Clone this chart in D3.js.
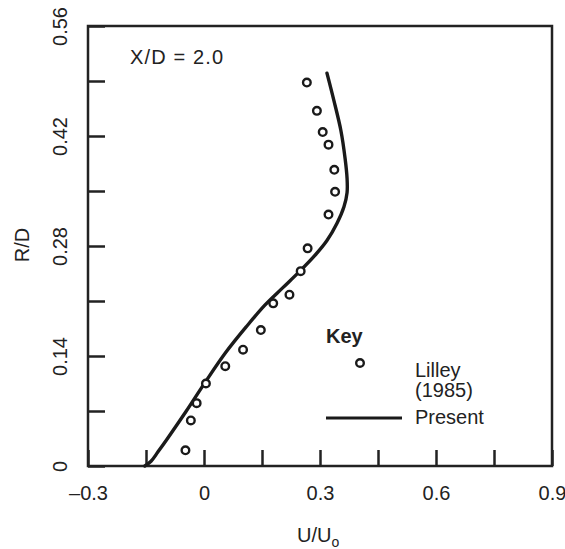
<!DOCTYPE html>
<html>
<head>
<meta charset="utf-8">
<script src="https://cdn.jsdelivr.net/npm/d3@7"></script>
<style>
  body { margin: 0; background: #fff; }
  text { font-family: Arial, "Liberation Sans", Helvetica, sans-serif; fill: #222; }
</style>
</head>
<body>
<div id="chart"></div>
<script>
// Lilley (1985) measured points, U/Uo vs R/D
var lilleyU = [0.266, 0.292, 0.307, 0.322, 0.337, 0.339, 0.322, 0.268, 0.250, 0.221, 0.179, 0.147, 0.101, 0.055, 0.005, -0.019, -0.034, -0.048];
var lilleyR = [0.488, 0.452, 0.425, 0.409, 0.377, 0.349, 0.320, 0.277, 0.248, 0.218, 0.207, 0.173, 0.148, 0.127, 0.105, 0.080, 0.058, 0.020];

// Present prediction
var presentU = [-0.153, -0.137, -0.119, -0.093, -0.047, 0.005, 0.057, 0.109, 0.158, 0.204, 0.248, 0.285, 0.318, 0.344, 0.362, 0.370, 0.370, 0.365, 0.354, 0.336, 0.318];
var presentR = [0, 0.006, 0.018, 0.036, 0.069, 0.108, 0.145, 0.177, 0.205, 0.227, 0.248, 0.267, 0.287, 0.309, 0.330, 0.348, 0.366, 0.391, 0.427, 0.465, 0.500];

var xTicks = [-0.3, -0.15, 0, 0.15, 0.3, 0.45, 0.6, 0.75, 0.9];
var xLabels = [-0.3, 0, 0.3, 0.6, 0.9];
var yTicks = [0, 0.07, 0.14, 0.21, 0.28, 0.35, 0.42, 0.49, 0.56];
var yLabels = [0, 0.14, 0.28, 0.42, 0.56];

var width = 565,
    height = 549,
    margin = { left: 88, top: 26, right: 13, bottom: 83 };
var chartWidth = width - margin.left - margin.right;
var chartHeight = height - margin.top - margin.bottom;

var svg = d3.select('#chart').append('svg')
    .attr('width', width)
    .attr('height', height);

var g = svg.append('g')
    .attr('transform', 'translate(' + margin.left + ',' + margin.top + ')');

var xScale = d3.scaleLinear().domain([-0.3, 0.9]).range([0, chartWidth]);
var yScale = d3.scaleLinear().domain([0, 0.56]).range([chartHeight, 0]);

var fmt = function(d) {
    if (d === 0) return '0';
    return (d < 0 ? '\u2013' : '') + Math.abs(d);
};

// axes with inward ticks
var xAxis = d3.axisBottom(xScale)
    .tickValues(xTicks)
    .tickFormat(function(d) { return xLabels.indexOf(d) < 0 ? '' : fmt(d); })
    .tickSizeInner(-16)
    .tickSizeOuter(0)
    .tickPadding(20);

var yAxis = d3.axisLeft(yScale)
    .tickValues(yTicks)
    .tickFormat(function(d) { return yLabels.indexOf(d) < 0 ? '' : fmt(d); })
    .tickSizeInner(-17)
    .tickSizeOuter(0);

var gx = g.append('g')
    .attr('class', 'axis x')
    .attr('transform', 'translate(0,' + chartHeight + ')')
    .call(xAxis);

var gy = g.append('g')
    .attr('class', 'axis y')
    .call(yAxis);

g.selectAll('.axis .domain').remove();
g.selectAll('.axis line').attr('stroke', '#222').attr('stroke-width', 2.5);
g.selectAll('.axis text')
    .attr('font-family', 'Arial, "Liberation Sans", sans-serif')
    .attr('font-size', 20)
    .attr('fill', '#222');

gy.selectAll('text')
    .attr('transform', 'rotate(-90)')
    .attr('x', 0)
    .attr('y', -21)
    .attr('dy', 0)
    .attr('text-anchor', 'middle');

// frame
g.append('rect')
    .attr('width', chartWidth)
    .attr('height', chartHeight)
    .attr('fill', 'none')
    .attr('stroke', '#222')
    .attr('stroke-width', 2.5);

// Present curve
var line = d3.line()
    .x(function(d, i) { return xScale(presentU[i]); })
    .y(function(d, i) { return yScale(presentR[i]); })
    .curve(d3.curveCatmullRom.alpha(0.5));

g.append('path')
    .datum(presentU)
    .attr('d', line)
    .attr('fill', 'none')
    .attr('stroke', '#1a1a1a')
    .attr('stroke-width', 3.4)
    .attr('stroke-linecap', 'round');

// Lilley points
g.selectAll('circle.pt')
    .data(lilleyU)
    .enter().append('circle')
    .attr('class', 'pt')
    .attr('cx', function(d) { return xScale(d); })
    .attr('cy', function(d, i) { return yScale(lilleyR[i]); })
    .attr('r', 3.8)
    .attr('fill', '#fff')
    .attr('stroke', '#1a1a1a')
    .attr('stroke-width', 2.4);

// annotation
svg.append('text')
    .attr('x', 130)
    .attr('y', 64)
    .attr('font-size', 20)
    .attr('textLength', 93)
    .text('X/D = 2.0');

// key
var key = svg.append('g');
key.append('text')
    .attr('x', 326)
    .attr('y', 343)
    .attr('font-size', 20)
    .attr('font-weight', 'bold')
    .text('Key');
key.append('circle')
    .attr('cx', 360)
    .attr('cy', 363)
    .attr('r', 3.8)
    .attr('fill', '#fff')
    .attr('stroke', '#1a1a1a')
    .attr('stroke-width', 2.4);
key.append('text')
    .attr('x', 415)
    .attr('y', 377)
    .attr('font-size', 20)
    .text('Lilley');
key.append('text')
    .attr('x', 415)
    .attr('y', 397)
    .attr('font-size', 20)
    .text('(1985)');
key.append('line')
    .attr('x1', 326)
    .attr('x2', 402)
    .attr('y1', 418)
    .attr('y2', 418)
    .attr('stroke', '#1a1a1a')
    .attr('stroke-width', 3);
key.append('text')
    .attr('x', 415)
    .attr('y', 424)
    .attr('font-size', 20)
    .text('Present');

// axis titles
var xt = svg.append('text')
    .attr('x', 297)
    .attr('y', 542)
    .attr('font-size', 20);
xt.append('tspan').text('U/U');
xt.append('tspan').attr('font-size', 14).attr('dy', 5).text('o');

svg.append('text')
    .attr('transform', 'translate(29,245) rotate(-90)')
    .attr('text-anchor', 'middle')
    .attr('font-size', 20)
    .text('R/D');
</script>
</body>
</html>
